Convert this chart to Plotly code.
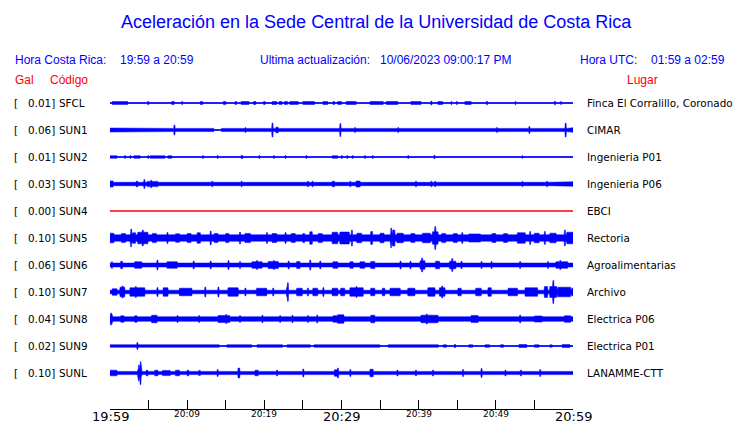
import numpy as np
import plotly.graph_objects as go

# ---------------- data ----------------
CODES = ["SFCL", "SUN1", "SUN2", "SUN3", "SUN4", "SUN5", "SUN6", "SUN7", "SUN8", "SUN9", "SUNL"]
GAL = ["0.01", "0.06", "0.01", "0.03", "0.00", "0.10", "0.06", "0.10", "0.04", "0.02", "0.10"]
PLACES = ["Finca El Corralillo, Coronado", "CIMAR", "Ingenieria P01", "Ingenieria P06", "EBCI",
          "Rectoria", "Agroalimentarias", "Archivo", "Electrica P06", "Electrica P01", "LANAMME-CTT"]

# background (noise) half-amplitude of each trace, display units
BASE = [0.4, 1.6, 0.4, 1.7, 0.0, 3.2, 2.0, 1.8, 2.3, 1.3, 1.6]

# quiet stretches: (start minute, end minute, half-amplitude)
QUIET_SUN1 = [(13.5, 14.4, 0.5)]
QUIET_SUN9 = [(14.2, 15.1, 0.4), (18.4, 19.0, 0.4), (22.4, 22.9, 0.4), (26.0, 26.4, 0.4),
              (35.0, 36.0, 0.4), (42.6, 60.0, 0.4)]

# bursts / spikes: (start minute, end minute, half-amplitude)
EV_SFCL = [(0.3, 2.3, 1.4), (4.9, 4.9, 1.8), (8.0, 8.3, 1.6), (9.3, 9.3, 1.6), (11.7, 12.0, 1.5),
           (14.7, 15.0, 1.6), (16.2, 16.4, 1.4), (17.0, 18.0, 1.5), (18.6, 18.9, 1.4), (19.9, 20.1, 1.5),
           (21.0, 21.6, 1.4), (21.9, 22.3, 1.4), (22.6, 23.0, 1.4), (23.3, 24.4, 1.4), (25.0, 26.5, 1.5),
           (27.6, 28.2, 1.5), (28.9, 29.1, 1.4), (29.5, 30.0, 1.4), (30.6, 31.9, 1.5), (33.7, 35.4, 1.5),
           (35.8, 37.3, 1.5), (39.0, 40.3, 1.5), (41.6, 41.6, 2.0), (42.5, 43.1, 1.5), (44.2, 44.3, 1.6),
           (44.9, 45.0, 1.6), (46.0, 46.8, 1.5), (48.8, 48.8, 1.8), (52.5, 52.5, 1.6), (57.6, 57.6, 1.8),
           (58.4, 58.4, 1.4)]
EV_SUN1 = [(0.0, 1.0, 2.0), (8.3, 8.3, 5.0), (17.5, 17.5, 2.4), (21.0, 21.0, 7.0), (21.5, 21.8, 2.8),
           (29.8, 29.8, 6.5), (31.7, 31.7, 2.4), (35.6, 36.0, 2.3), (37.3, 37.3, 2.4), (40.5, 40.5, 2.3),
           (43.4, 43.8, 2.2), (50.1, 50.1, 2.4), (54.3, 54.4, 3.5), (55.4, 55.8, 2.3), (57.1, 57.1, 2.3),
           (59.0, 59.0, 7.0), (59.5, 60.0, 2.3)]
EV_SUN2 = [(0.0, 0.9, 1.3), (1.9, 1.9, 1.4), (2.6, 2.6, 1.4), (3.1, 3.9, 1.3), (4.9, 4.9, 1.4),
           (5.2, 7.1, 1.3), (7.5, 8.0, 1.3), (12.0, 12.0, 1.4), (13.9, 13.9, 1.4), (17.0, 17.2, 1.6),
           (19.3, 19.3, 1.4), (21.2, 21.2, 1.4), (22.7, 22.7, 1.4), (25.4, 25.4, 1.4), (28.8, 29.5, 1.3),
           (30.0, 30.1, 1.4), (30.7, 30.8, 1.4), (31.4, 31.5, 1.4), (33.0, 33.0, 1.4), (34.0, 34.0, 1.4),
           (38.6, 38.6, 1.4), (42.0, 42.1, 1.8), (53.4, 53.4, 1.3)]
EV_SUN3 = [(0.0, 0.4, 3.1), (3.4, 3.6, 2.8), (4.4, 4.4, 4.5), (4.8, 6.2, 2.6), (5.3, 5.3, 3.8),
           (13.2, 13.2, 2.8), (17.0, 17.0, 2.8), (23.4, 23.4, 2.4), (25.6, 25.6, 2.8), (26.2, 26.2, 2.8),
           (28.8, 29.1, 2.8), (31.1, 31.1, 2.8), (31.9, 32.4, 3.0), (39.6, 39.6, 2.8), (41.6, 41.7, 2.8),
           (42.1, 42.2, 2.8), (53.4, 53.4, 2.6), (56.6, 56.6, 2.8), (59.5, 60.0, 2.2)]
EV_SUN4 = []
EV_SUN5 = [(0.0, 0.5, 4.8), (1.5, 2.0, 4.4), (2.7, 2.7, 9.0), (2.9, 3.3, 5.3), (3.6, 4.9, 5.8),
           (4.2, 4.2, 8.0), (5.5, 6.0, 4.6), (7.4, 7.4, 5.5), (8.5, 9.0, 4.3), (10.0, 10.5, 4.4),
           (11.3, 11.7, 5.3), (13.0, 13.0, 7.0), (13.5, 14.0, 4.4), (15.0, 15.4, 4.6), (16.8, 16.8, 6.0),
           (17.5, 18.2, 4.6), (20.3, 20.3, 5.5), (21.0, 21.6, 4.4), (22.7, 22.7, 5.5), (23.5, 24.0, 4.4),
           (25.0, 25.2, 4.6), (25.9, 26.2, 6.3), (27.0, 27.5, 4.4), (28.8, 29.5, 5.8), (29.8, 31.0, 6.0),
           (31.3, 31.3, 8.0), (32.0, 32.6, 4.8), (33.8, 34.0, 6.5), (35.0, 35.5, 4.8), (36.4, 36.4, 10.0),
           (36.6, 36.9, 8.0), (37.2, 38.0, 4.8), (39.0, 39.5, 4.4), (40.5, 41.5, 4.8), (41.8, 42.5, 6.3),
           (42.1, 42.1, 11.5), (43.0, 43.5, 4.6), (44.5, 45.0, 4.4), (45.6, 45.6, 5.5), (46.5, 48.0, 4.1),
           (49.5, 50.0, 4.4), (51.0, 51.5, 4.4), (52.8, 53.8, 5.3), (54.4, 54.4, 6.5), (55.0, 55.6, 4.8),
           (56.3, 56.3, 6.5), (57.0, 57.8, 4.8), (58.9, 58.9, 8.0), (59.2, 60.0, 5.8)]
EV_SUN6 = [(0.2, 0.3, 3.3), (1.4, 1.6, 3.8), (3.2, 4.1, 3.3), (6.1, 6.1, 5.0), (7.4, 8.7, 3.3),
           (10.8, 10.8, 4.0), (13.0, 13.0, 4.0), (15.3, 15.3, 4.5), (16.8, 16.8, 3.5), (18.4, 19.7, 3.3),
           (19.0, 19.0, 4.5), (20.5, 21.8, 3.6), (21.2, 21.2, 4.5), (23.1, 23.1, 4.0), (24.2, 24.6, 3.6),
           (25.9, 25.9, 5.0), (27.2, 27.2, 4.0), (28.9, 29.5, 3.3), (31.1, 31.5, 3.3), (32.4, 33.0, 3.3),
           (33.8, 34.3, 3.6), (37.6, 37.6, 4.0), (38.9, 38.9, 3.8), (40.2, 40.8, 4.3), (40.4, 40.4, 7.0),
           (42.2, 42.7, 3.8), (44.0, 44.8, 3.8), (44.3, 44.3, 6.5), (45.5, 45.5, 3.8), (48.1, 48.1, 3.5),
           (49.4, 49.4, 3.5), (53.1, 53.1, 3.5), (56.7, 56.7, 3.5), (57.8, 59.3, 3.3), (58.3, 58.3, 4.5)]
EV_SUN7 = [(0.3, 0.9, 3.3), (1.3, 1.9, 4.8), (1.6, 1.6, 6.0), (2.6, 4.5, 4.3), (3.3, 3.3, 5.5),
           (6.1, 6.1, 4.5), (6.9, 7.5, 4.3), (9.0, 10.6, 3.8), (12.3, 12.3, 5.0), (14.0, 14.0, 5.0),
           (15.3, 16.6, 4.3), (17.5, 17.5, 4.0), (19.0, 20.3, 3.8), (21.1, 21.1, 4.0), (22.9, 23.1, 4.5),
           (23.0, 23.0, 9.3), (24.2, 24.9, 3.8), (25.6, 25.6, 4.0), (26.3, 26.9, 3.8), (27.6, 27.6, 4.5),
           (28.8, 29.5, 3.8), (29.9, 30.4, 3.8), (31.1, 32.8, 4.3), (31.9, 31.9, 5.5), (33.8, 34.3, 3.8),
           (35.3, 35.6, 3.8), (36.3, 37.6, 3.8), (38.6, 39.5, 3.8), (41.2, 42.1, 4.3), (42.7, 43.4, 4.3),
           (43.0, 43.0, 6.0), (45.1, 45.5, 3.8), (47.4, 48.1, 3.8), (49.0, 49.4, 4.3), (51.6, 52.8, 3.8),
           (53.8, 55.4, 4.3), (56.3, 56.7, 5.5), (57.0, 57.9, 5.5), (57.4, 57.4, 11.5), (58.0, 59.7, 4.8),
           (59.8, 60.0, 3.8)]
EV_SUN8 = [(0.0, 0.3, 4.3), (0.1, 0.1, 6.0), (1.4, 1.8, 3.3), (3.2, 3.5, 3.3), (5.4, 6.1, 3.8),
           (8.7, 8.7, 3.5), (11.5, 11.5, 3.5), (14.0, 15.5, 3.6), (15.0, 15.0, 4.5), (16.8, 16.8, 3.5),
           (19.7, 19.7, 3.8), (22.0, 22.0, 3.5), (23.6, 23.6, 3.8), (25.6, 25.6, 3.5), (26.8, 26.8, 4.0),
           (28.9, 29.5, 3.3), (29.5, 30.3, 4.3), (33.8, 34.3, 3.8), (40.3, 42.5, 3.8), (41.0, 41.0, 5.0),
           (46.8, 47.7, 3.6), (53.1, 53.1, 4.0), (55.0, 56.0, 3.1), (58.9, 59.7, 3.3)]
EV_SUN9 = [(3.5, 3.5, 3.5), (43.2, 43.6, 1.3), (44.6, 44.8, 1.4), (46.5, 47.0, 1.3), (48.6, 49.2, 1.3),
           (50.6, 51.0, 1.3), (53.0, 54.0, 1.5), (55.0, 55.6, 1.3), (57.0, 57.3, 1.2), (58.6, 59.6, 1.4)]
EV_SUNL = [(0.0, 0.9, 2.8), (3.6, 4.1, 3.3), (3.7, 3.7, 8.0), (3.9, 3.9, 11.5), (4.7, 4.9, 2.8),
           (5.8, 6.2, 2.8), (6.8, 7.8, 2.6), (8.5, 9.0, 2.8), (10.0, 10.2, 2.8), (11.5, 11.7, 2.6),
           (13.9, 13.9, 3.5), (16.6, 16.8, 5.0), (18.8, 19.2, 2.8), (21.6, 21.6, 3.0), (25.0, 25.0, 4.0),
           (29.1, 29.5, 3.3), (29.5, 29.6, 5.0), (31.1, 31.1, 3.5), (33.7, 34.1, 3.8), (37.2, 37.2, 3.0),
           (39.6, 39.6, 3.0), (41.8, 41.8, 3.0), (45.7, 45.7, 3.5), (48.1, 48.1, 4.5), (51.2, 51.2, 3.0),
           (53.2, 53.3, 3.0), (55.7, 55.7, 3.5)]

EVENTS = [EV_SFCL, EV_SUN1, EV_SUN2, EV_SUN3, EV_SUN4, EV_SUN5, EV_SUN6, EV_SUN7, EV_SUN8, EV_SUN9, EV_SUNL]
QUIET = [[], QUIET_SUN1, [], [], [], [], [], [], [], QUIET_SUN9, []]
TRACE_COLORS = ["#0000ff"] * 4 + ["#ff0000"] + ["#0000ff"] * 6

TICK_MIN = list(range(0, 61, 5))
MAJOR_TICKS = [0, 30, 60]
MAJOR_LABELS = ["19:59", "20:29", "20:59"]
MINOR_TICKS = [10, 20, 40, 50]
MINOR_LABELS = ["20:09", "20:19", "20:39", "20:49"]

# ---------------- layout geometry ----------------
W_FIG, H_FIG = 740, 423
L, R, T, B = 110, 573, 90, 409          # plot area in pixels
ROW = 27                                 # spacing between traces (display units = px)
TOP0 = 103 - T                           # first trace below top edge


def px_x(px):
    return (px - L) / (R - L)


def px_y(py):
    return (B - py) / (B - T)


BLUE = "#0000ff"
RED = "#ff0000"
fig = go.Figure()

t = np.round(np.arange(0, 60.0001, 0.05), 3)
for i, code in enumerate(CODES):
    c = -ROW * i
    env = np.full_like(t, BASE[i], dtype=float)
    for (a, b, v) in QUIET[i]:
        env[(t >= a) & (t <= b)] = v
    for (a, b, v) in EVENTS[i]:
        m = (t >= a - 0.001) & (t <= max(b, a + 0.1) + 0.001)
        env[m] = np.maximum(env[m], v)
    col = TRACE_COLORS[i]
    fig.add_trace(go.Scatter(x=[t[0], t[-1]], y=[c, c], mode="lines",
                             line=dict(color=col, width=1.6 if code == "SUN4" else 1.1),
                             hoverinfo="skip", showlegend=False))
    if env.max() > 0.6:
        xs = np.concatenate([t, t[::-1]])
        ys = np.concatenate([c + env, (c - env)[::-1]])
        fig.add_trace(go.Scatter(x=xs, y=ys, mode="lines", fill="toself",
                                 fillcolor=col, line=dict(color=col, width=0.5),
                                 hoverinfo="skip", showlegend=False))

ann = []
txt_font = dict(family="DejaVu Sans", size=10.4, color="#000000")
for i, code in enumerate(CODES):
    c = -ROW * i
    ann.append(dict(x=px_x(14), y=c, xref="paper", yref="y", text="[", showarrow=False,
                    xanchor="left", yanchor="middle", font=txt_font))
    ann.append(dict(x=px_x(54.5), y=c, xref="paper", yref="y", text=GAL[i] + "]", showarrow=False,
                    xanchor="right", yanchor="middle", font=txt_font))
    ann.append(dict(x=px_x(59), y=c, xref="paper", yref="y", text=code, showarrow=False,
                    xanchor="left", yanchor="middle", font=txt_font))
    ann.append(dict(x=px_x(587), y=c, xref="paper", yref="y", text=PLACES[i], showarrow=False,
                    xanchor="left", yanchor="middle", font=txt_font))

hdr = dict(family="Liberation Sans", size=12, color=BLUE)
red = dict(family="Liberation Sans", size=12, color=RED)
ann += [
    dict(x=px_x(376), y=px_y(22), xref="paper", yref="paper",
         text="Aceleración en la Sede Central de la Universidad de Costa Rica", showarrow=False,
         xanchor="center", yanchor="middle", font=dict(family="Liberation Sans", size=18, color=BLUE)),
    dict(x=px_x(15), y=px_y(60), xref="paper", yref="paper", text="Hora Costa Rica:", showarrow=False,
         xanchor="left", yanchor="middle", font=hdr),
    dict(x=px_x(120), y=px_y(60), xref="paper", yref="paper", text="19:59 a 20:59", showarrow=False,
         xanchor="left", yanchor="middle", font=hdr),
    dict(x=px_x(260), y=px_y(60), xref="paper", yref="paper", text="Ultima actualización:", showarrow=False,
         xanchor="left", yanchor="middle", font=hdr),
    dict(x=px_x(380), y=px_y(60), xref="paper", yref="paper", text="10/06/2023 09:00:17 PM", showarrow=False,
         xanchor="left", yanchor="middle", font=hdr),
    dict(x=px_x(580), y=px_y(60), xref="paper", yref="paper", text="Hora UTC:", showarrow=False,
         xanchor="left", yanchor="middle", font=hdr),
    dict(x=px_x(651), y=px_y(60), xref="paper", yref="paper", text="01:59 a 02:59", showarrow=False,
         xanchor="left", yanchor="middle", font=hdr),
    dict(x=px_x(15), y=px_y(80), xref="paper", yref="paper", text="Gal", showarrow=False,
         xanchor="left", yanchor="middle", font=red),
    dict(x=px_x(50), y=px_y(80), xref="paper", yref="paper", text="Código", showarrow=False,
         xanchor="left", yanchor="middle", font=red),
    dict(x=px_x(627), y=px_y(80), xref="paper", yref="paper", text="Lugar", showarrow=False,
         xanchor="left", yanchor="middle", font=red),
]
for v, lab in zip(MAJOR_TICKS, MAJOR_LABELS):
    ann.append(dict(x=v, y=px_y(416), xref="x", yref="paper", text=lab, showarrow=False,
                    xanchor="center", yanchor="middle",
                    font=dict(family="DejaVu Sans", size=13, color="#000000")))
for v, lab in zip(MINOR_TICKS, MINOR_LABELS):
    ann.append(dict(x=v, y=px_y(414), xref="x", yref="paper", text=lab, showarrow=False,
                    xanchor="center", yanchor="middle",
                    font=dict(family="DejaVu Sans", size=9, color="#000000")))
for a in ann:
    a["borderpad"] = 0
    a["borderwidth"] = 0

fig.update_layout(
    width=W_FIG, height=H_FIG,
    margin=dict(l=L, r=W_FIG - R, t=T, b=H_FIG - B, pad=0),
    paper_bgcolor="white", plot_bgcolor="white",
    showlegend=False,
    annotations=ann,
    xaxis=dict(range=[0, 60], showgrid=False, zeroline=False, showline=True,
               linecolor="black", linewidth=1, ticks="inside", ticklen=9, tickwidth=1,
               tickcolor="black", tickvals=TICK_MIN, showticklabels=False, fixedrange=True),
    yaxis=dict(range=[-(B - 103), TOP0], showgrid=False, zeroline=False, showline=False,
               showticklabels=False, ticks="", fixedrange=True),
)

# the page's default body margin would shift the figure; remove it
fig.write_html("out.html", config={"displayModeBar": False},
               post_script="document.body.style.margin='0';document.body.style.overflow='hidden';")
